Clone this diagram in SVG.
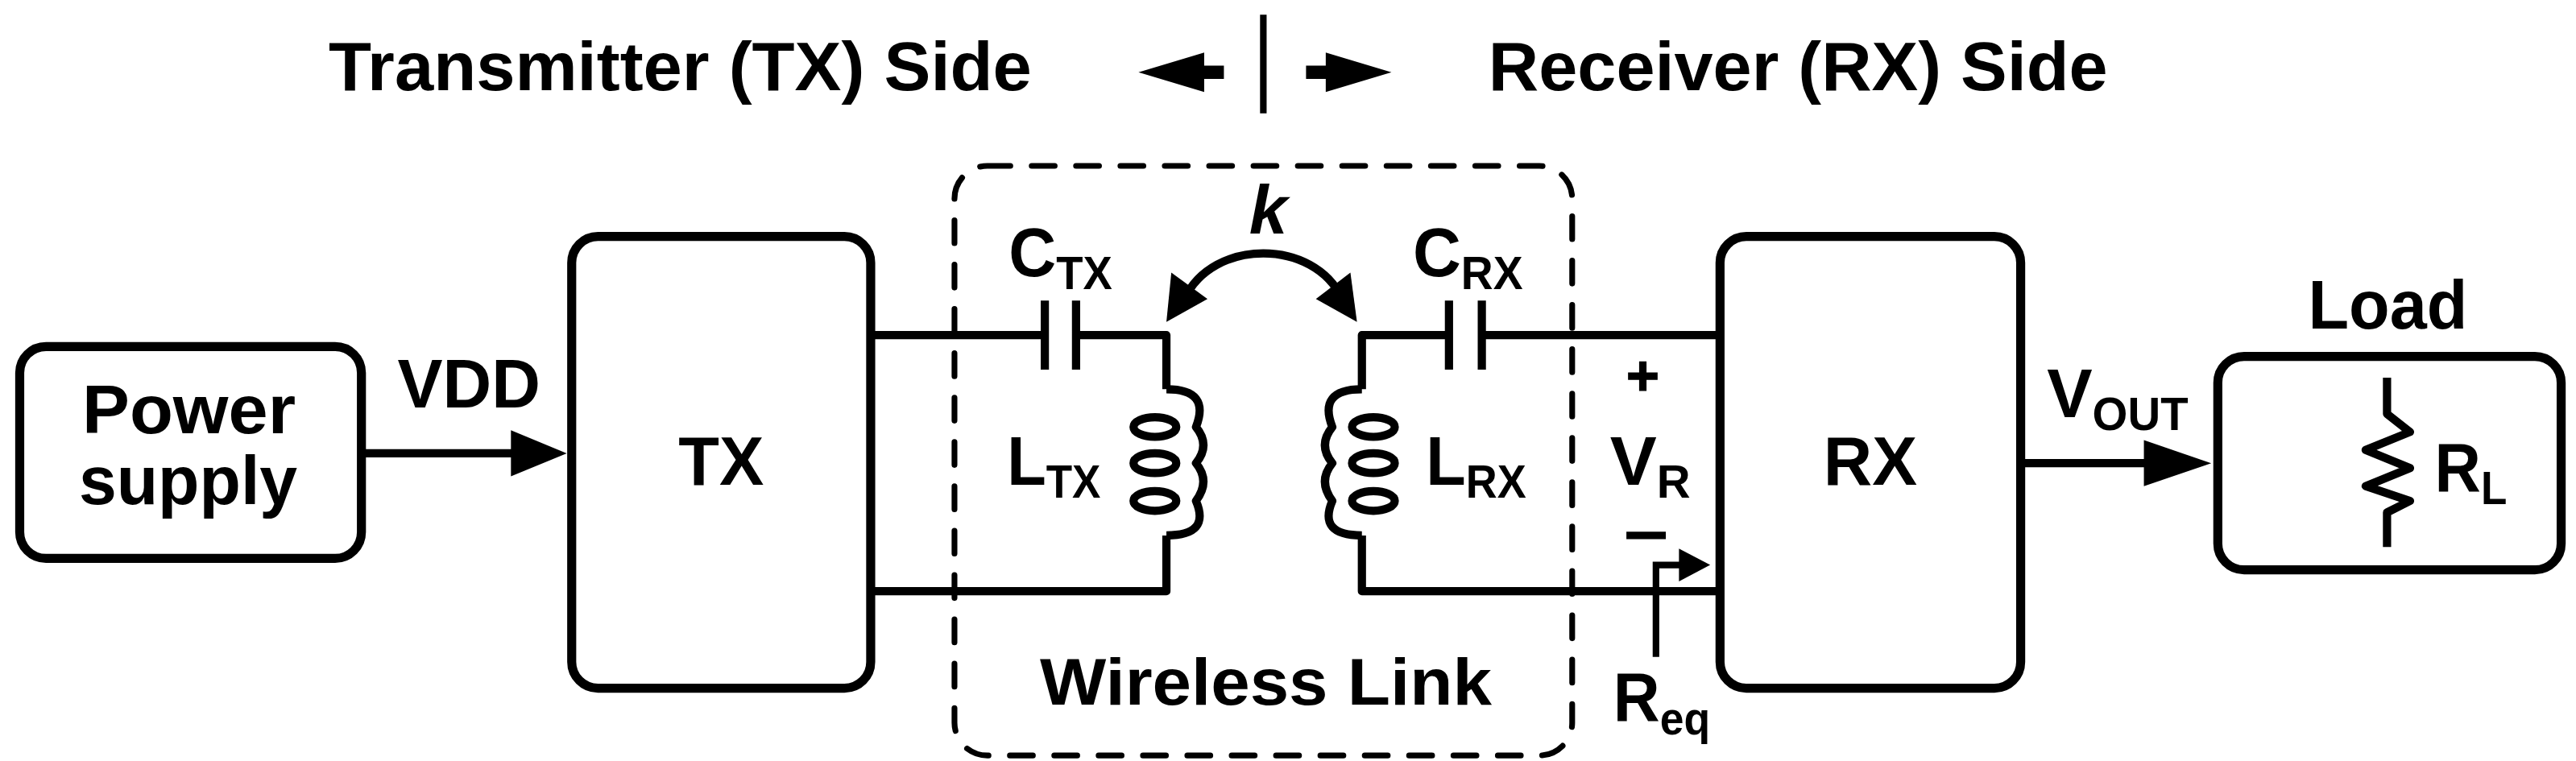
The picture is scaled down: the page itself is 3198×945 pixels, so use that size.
<svg xmlns="http://www.w3.org/2000/svg" width="3198" height="945" viewBox="0 0 3198 945">
<defs>
<style>
.t{font-family:"Liberation Sans",Arial,sans-serif;font-weight:bold;fill:#000}
.box{fill:#fff;stroke:#000;stroke-width:5.5}
.w{fill:none;stroke:#000;stroke-width:5;stroke-linejoin:round}
.s{font-size:28px}
</style>
</defs>
<rect width="3198" height="945" fill="#fff"/>
<g transform="scale(2.0395)">
<g id="header">
<text class="t" x="200" y="55" font-size="42" textLength="428" lengthAdjust="spacingAndGlyphs">Transmitter (TX) Side</text>
<text class="t" x="906" y="55" font-size="42" textLength="377" lengthAdjust="spacingAndGlyphs">Receiver (RX) Side</text>
<line x1="769" y1="9" x2="769" y2="69" stroke="#000" stroke-width="4"/>
<path d="M693,44 L733,32 L733,40 L745,40 L745,48 L733,48 L733,56 Z" fill="#000"/>
<path d="M847,44 L807,32 L807,40 L795,40 L795,48 L807,48 L807,56 Z" fill="#000"/>
</g>
<g id="link">
<rect x="581" y="101" width="376" height="359" rx="20" fill="none" stroke="#000" stroke-width="3.5" stroke-dasharray="14,13" stroke-linecap="round"/>
<text class="t" x="633" y="429" font-size="40" textLength="275" lengthAdjust="spacingAndGlyphs">Wireless Link</text>
</g>
<g id="power">
<rect class="box" x="12" y="211" width="208" height="129" rx="16"/>
<text class="t" x="50" y="264" font-size="42" textLength="130" lengthAdjust="spacingAndGlyphs">Power</text>
<text class="t" x="48" y="307" font-size="42" textLength="133" lengthAdjust="spacingAndGlyphs">supply</text>
</g>
<g id="tx">
<rect class="box" x="348" y="144" width="182" height="275" rx="16"/>
<text class="t" x="413" y="295" font-size="42" textLength="52" lengthAdjust="spacingAndGlyphs">TX</text>
</g>
<g id="rx">
<rect class="box" x="1047" y="144" width="183" height="275" rx="16"/>
<text class="t" x="1110" y="295" font-size="42" textLength="57" lengthAdjust="spacingAndGlyphs">RX</text>
</g>
<g id="load">
<rect class="box" x="1350" y="217" width="209" height="130" rx="16"/>
<text class="t" x="1405" y="200" font-size="42" textLength="97" lengthAdjust="spacingAndGlyphs">Load</text>
<path class="w" d="M1453,230 V252 L1467,263 L1440,274 L1467,285 L1440,296 L1467,305 L1453,312 V333"/>
<text class="t" x="1482" y="299" font-size="42" textLength="44" lengthAdjust="spacingAndGlyphs">R<tspan class="s" dy="8">L</tspan></text>
</g>
<g id="connectors">
<line class="w" x1="220" y1="276" x2="312" y2="276"/>
<path d="M345,276 L311,262 L311,290 Z" fill="#000"/>
<text class="t" x="242" y="248" font-size="42" textLength="87" lengthAdjust="spacingAndGlyphs">VDD</text>
<line class="w" x1="1230" y1="282" x2="1306" y2="282"/>
<path d="M1346,282 L1305,268 L1305,296 Z" fill="#000"/>
<text class="t" x="1246" y="254" font-size="42" textLength="86" lengthAdjust="spacingAndGlyphs">V<tspan class="s" dy="8">OUT</tspan></text>
<!-- TX tank -->
<path class="w" d="M530,204 H636 M636,183 V225 M655,183 V225 M655,204 H710 V237"/>
<path class="w" d="M710,237 Q737,237 728,260 Q737,271 728,282 Q737,293 728,305 Q737,326 710,326"/>
<ellipse class="w" cx="703" cy="260" rx="13" ry="6"/>
<ellipse class="w" cx="703" cy="282" rx="13" ry="6"/>
<ellipse class="w" cx="703" cy="305" rx="13" ry="6"/>
<path class="w" d="M710,326 V360 H530"/>
<text class="t" x="613" y="295" font-size="42" textLength="57" lengthAdjust="spacingAndGlyphs">L<tspan class="s" dy="8">TX</tspan></text>
<text class="t" x="614" y="168" font-size="42" textLength="63" lengthAdjust="spacingAndGlyphs">C<tspan class="s" dy="8">TX</tspan></text>
<!-- RX tank -->
<path class="w" d="M1047,204 H902 M902,183 V225 M882,183 V225 M882,204 H829 V237"/>
<path class="w" d="M829,237 Q802,237 811,260 Q802,271 811,282 Q802,293 811,305 Q802,326 829,326"/>
<ellipse class="w" cx="836" cy="260" rx="13" ry="6"/>
<ellipse class="w" cx="836" cy="282" rx="13" ry="6"/>
<ellipse class="w" cx="836" cy="305" rx="13" ry="6"/>
<path class="w" d="M829,326 V360 H1047"/>
<text class="t" x="868" y="295" font-size="42" textLength="61" lengthAdjust="spacingAndGlyphs">L<tspan class="s" dy="8">RX</tspan></text>
<text class="t" x="860" y="168" font-size="42" textLength="67" lengthAdjust="spacingAndGlyphs">C<tspan class="s" dy="8">RX</tspan></text>
<!-- coupling -->
<path class="w" d="M721,182 C738,145 800,145 817,182"/>
<path d="M710,196 L713,166 L735,182 Z" fill="#000"/>
<path d="M826,196 L822,166 L801,182 Z" fill="#000"/>
<text class="t" x="772" y="142" font-size="42" font-style="italic" text-anchor="middle">k</text>
<!-- VR -->
<path d="M991,229 H1009 M1000,220 V238" stroke="#000" stroke-width="4.5"/>
<text class="t" x="980" y="295" font-size="42" textLength="49" lengthAdjust="spacingAndGlyphs">V<tspan class="s" dy="8">R</tspan></text>
<line x1="990" y1="326" x2="1014" y2="326" stroke="#000" stroke-width="4.5"/>
<path d="M1008,400 V344 H1024" fill="none" stroke="#000" stroke-width="4"/>
<path d="M1041,344 L1022,334 L1022,354 Z" fill="#000"/>
<text class="t" x="982" y="439" font-size="42" textLength="59" lengthAdjust="spacingAndGlyphs">R<tspan class="s" dy="8">eq</tspan></text>
</g>
</g>
</svg>
